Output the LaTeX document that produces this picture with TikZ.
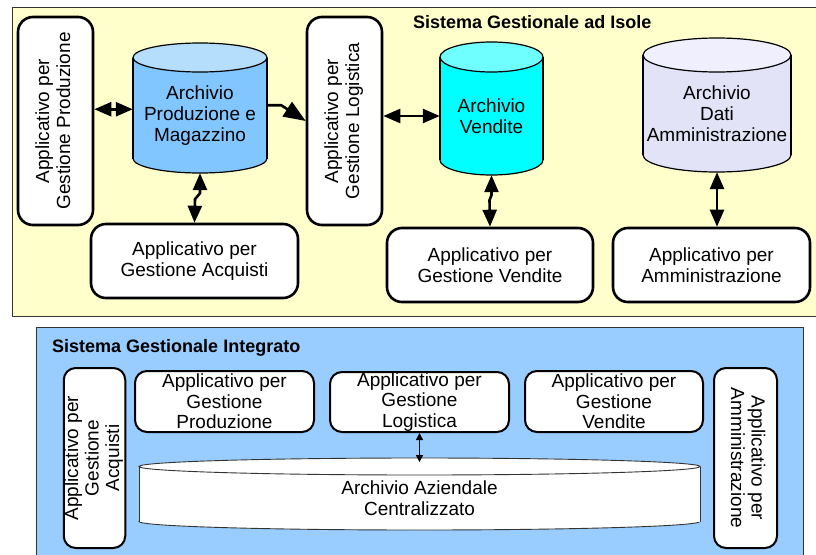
\documentclass[tikz,border=0pt]{standalone}
\usepackage{fontspec}
\setmainfont{Liberation Sans}
\usetikzlibrary{arrows.meta,calc}

\definecolor{islebg}{HTML}{FFFFCC}
\definecolor{intbg}{HTML}{99CCFF}
\definecolor{prodbody}{HTML}{82C6FF}
\definecolor{prodtop}{HTML}{B5DEFD}
\definecolor{vendbody}{HTML}{00FFFF}
\definecolor{vendtop}{HTML}{70FFFF}
\definecolor{ammbody}{HTML}{E3E3F8}
\definecolor{ammtop}{HTML}{EFEFFD}
\definecolor{panelline}{HTML}{333333}

\newcommand{\boxfont}{\fontsize{19}{21}\selectfont}
\newcommand{\intfont}{\fontsize{19}{20.5}\selectfont}
\newcommand{\titlefont}{\fontsize{18}{20}\selectfont\bfseries}
\newcommand{\twolines}[2]{\begin{tabular}{@{}c@{}}#1\\#2\end{tabular}}
\newcommand{\threelines}[3]{\begin{tabular}{@{}c@{}}#1\\#2\\#3\end{tabular}}

% cylinder: x-left, x-right, outer top, outer bottom, end radius, body colour, lid colour
\newcommand{\drawcyl}[7]{%
  \pgfmathsetmacro{\cylcx}{(#1+#2)/2}%
  \pgfmathsetmacro{\cylrx}{(#2-#1)/2}%
  \pgfmathsetmacro{\cylyt}{#3+#5}%
  \pgfmathsetmacro{\cylyb}{#4-#5}%
  \draw[cylline, fill=#6] (\cylcx,\cylyb) ellipse [x radius=\cylrx pt, y radius=#5pt];
  \fill[#6] (#1,\cylyt) rectangle (#2,\cylyb);
  \draw[cylline] (#1,\cylyt) -- (#1,\cylyb) (#2,\cylyt) -- (#2,\cylyb);
  \draw[cylline, fill=#7] (\cylcx,\cylyt) ellipse [x radius=\cylrx pt, y radius=#5pt];
}

\tikzset{
  panel/.style={draw=panelline, line width=0.9pt},
  appbox/.style={draw=black, fill=white, line width=2.6pt, rounded corners=15pt,
    inner sep=0pt, align=center, font=\boxfont},
  intbox/.style={draw=black, fill=white, line width=2pt, rounded corners=12pt,
    inner sep=0pt, align=center, font=\intfont},
  cylnode/.style={inner sep=0pt, align=center, font=\boxfont},
  cylline/.style={draw=black, line width=1.2pt},
  thincyl/.style={draw=black!80, line width=0.9pt},
  bigarrow/.style={line width=2.6pt,
    {Triangle[length=17pt,width=14pt]}-{Triangle[length=17pt,width=14pt]}},
  onearrow/.style={line width=2.6pt, -{Triangle[length=22pt,width=17pt]}},
  smallarrow/.style={line width=1.3pt,
    {Triangle[length=7pt,width=7pt]}-{Triangle[length=7pt,width=7pt]}},
  paneltitle/.style={anchor=base west, inner sep=0pt, font=\titlefont}
}

\begin{document}
\begin{tikzpicture}[x=1pt, y=-1pt]
\begin{scope}
\clip (0,0) rectangle (816,554);
\fill[white] (0,0) rectangle (816,554);

% ---------- island-based system ----------
\draw[panel, fill=islebg] (12,7) rectangle (830,316);
\node[paneltitle] (isleTitle) at (413,28) {Sistema Gestionale ad Isole};

\drawcyl{133}{267}{43}{173}{14.5}{prodbody}{prodtop}
\drawcyl{440}{543}{42}{175}{15}{vendbody}{vendtop}
\drawcyl{643}{791}{38}{172}{17}{ammbody}{ammtop}

\node[cylnode, minimum width=134pt, minimum height=115.5pt] (cylA) at (200,115.25)
  {Archivio\\Produzione e\\Magazzino};
\node[cylnode, minimum width=103pt, minimum height=118pt] (cylV) at (491.5,116)
  {Archivio\\Vendite};
\node[cylnode, minimum width=148pt, minimum height=117pt] (cylD) at (717,113.5)
  {Archivio\\Dati\\Amministrazione};

\node[appbox, minimum width=75pt, minimum height=208pt] (boxP) at (55.5,121)
  {\rotatebox{90}{\twolines{Applicativo per}{Gestione Produzione}}};
\node[appbox, minimum width=75pt, minimum height=208pt] (boxL) at (344.5,121)
  {\rotatebox{90}{\twolines{Applicativo per}{Gestione Logistica}}};
\node[appbox, minimum width=207pt, minimum height=74pt] (boxAcq) at (194.5,261)
  {Applicativo per\\Gestione Acquisti};
\node[appbox, minimum width=206pt, minimum height=74pt] (boxV) at (490,265)
  {Applicativo per\\Gestione Vendite};
\node[appbox, minimum width=197pt, minimum height=74pt] (boxAm) at (711.5,265)
  {Applicativo per\\Amministrazione};

% connectors between applications and archives
\path (cylA.west) ++(0,-6) coordinate (aw);
\draw[bigarrow] (boxP.east |- aw) -- (aw);
\path (cylA.east) ++(0,-10) coordinate (ae);
\draw[onearrow] (ae) -- ++(14,0) -- (boxL.west);
\draw[bigarrow] (boxL.east |- cylV.west) -- (cylV.west);
\draw[bigarrow] (cylA.south) -- ++(0,20) -- ++(-5,6) -- (boxAcq.north);
\draw[bigarrow] (cylV.south) -- ++(0,20) -- ++(-2,5) -- (boxV.north);
\draw[bigarrow] (cylD.south) -- (cylD.south |- boxAm.north);

% ---------- integrated system ----------
\draw[panel, fill=intbg] (36,327) rectangle (803,570);
\node[paneltitle] (intTitle) at (52,352) {Sistema Gestionale Integrato};

\begin{scope}[cylline/.style={thincyl}]
\drawcyl{139}{700}{458}{530}{8.5}{white}{white}
\end{scope}
\node[cylnode, font=\intfont, minimum width=561pt, minimum height=63.5pt] (cylC) at (419.5,498)
  {Archivio Aziendale\\Centralizzato};

\node[intbox, minimum width=61pt, minimum height=180pt] (iAcq) at (94.5,458)
  {\rotatebox{90}{\threelines{Applicativo per}{Gestione}{Acquisti}}};
\node[intbox, minimum width=179pt, minimum height=61pt] (iP) at (224.5,401.5)
  {Applicativo per\\Gestione\\Produzione};
\node[intbox, minimum width=179pt, minimum height=60pt] (iL) at (419.5,402)
  {Applicativo per\\Gestione\\Logistica};
\node[intbox, minimum width=178pt, minimum height=61pt] (iV) at (614,401.5)
  {Applicativo per\\Gestione\\Vendite};
\node[intbox, minimum width=63pt, minimum height=180pt] (iAm) at (745.5,458)
  {\rotatebox{-90}{\twolines{Applicativo per}{Amministrazione}}};

\path (cylC.north) ++(0,-4) coordinate (ct);
\draw[smallarrow] (iL.south) -- (ct);
\end{scope}

\pgfresetboundingbox
\path[use as bounding box] (0,0) rectangle (816,554);
\end{tikzpicture}
\end{document}
